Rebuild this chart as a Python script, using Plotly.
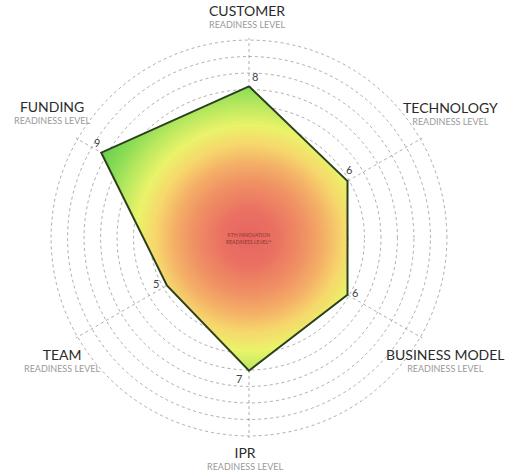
import numpy as np
import plotly.graph_objects as go

categories = ["CUSTOMER", "TECHNOLOGY", "BUSINESS MODEL", "IPR", "TEAM", "FUNDING"]
values = [8, 6, 6, 7, 5, 9]
subtitle = "READINESS LEVEL"
center_text = "KTH INNOVATION<br>READINESS LEVEL™"

W, H = 525, 475
CX, CY = 249, 238          # polar centre in px
RPX = 200                  # polar radius in px
RMAX = 10.55               # radial range max (units)
GRID_STEP = 0.87

n = len(categories)
angles = np.arange(n) * 360.0 / n   # clockwise from top


def poly_radius(theta_deg):
    """Radius of the data polygon along direction theta (polar, clockwise from top)."""
    vals = np.array(values, dtype=float)
    ang = np.radians(angles)
    px = vals * np.sin(ang)
    py = vals * np.cos(ang)
    t = np.radians(theta_deg)
    dx, dy = np.sin(t), np.cos(t)
    best = None
    for i in range(n):
        x1, y1 = px[i], py[i]
        x2, y2 = px[(i + 1) % n], py[(i + 1) % n]
        ex, ey = x2 - x1, y2 - y1
        den = dx * (-ey) - dy * (-ex)
        if abs(den) < 1e-12:
            continue
        s = (x1 * (-ey) - y1 * (-ex)) / den
        u = (dx * y1 - dy * x1) / den
        if s > 0 and -1e-9 <= u <= 1 + 1e-9:
            if best is None or s < best:
                best = s
    return best


theta_s = np.unique(np.concatenate([np.linspace(0, 360, 721), angles, [360]]))
prad = np.array([poly_radius(t) for t in theta_s])

stops = [
    (0.0, (231, 100, 98)),
    (1.5, (234, 113, 98)),
    (3.0, (240, 145, 100)),
    (4.0, (244, 175, 103)),
    (5.0, (246, 215, 108)),
    (6.0, (234, 243, 106)),
    (7.0, (188, 233, 96)),
    (8.0, (138, 221, 86)),
    (9.0, (106, 206, 78)),
    (10.0, (95, 200, 75)),
]


def color_at(r):
    for (r0, c0), (r1, c1) in zip(stops[:-1], stops[1:]):
        if r <= r1:
            f = (r - r0) / (r1 - r0)
            c = [round(a + (b - a) * f) for a, b in zip(c0, c1)]
            return "rgb(%d,%d,%d)" % tuple(c)
    return "rgb(%d,%d,%d)" % stops[-1][1]


fig = go.Figure()

levels = np.arange(max(values), 0, -0.1)
for lv in levels:
    rr = np.minimum(prad, lv)
    fig.add_trace(go.Scatterpolar(
        r=rr, theta=theta_s, mode="lines", fill="toself",
        fillcolor=color_at(lv), line=dict(width=0, color=color_at(lv)),
        hoverinfo="skip", showlegend=False))

# outline
fig.add_trace(go.Scatterpolar(
    r=values + [values[0]], theta=list(angles) + [angles[0]],
    mode="lines", line=dict(color="#2c401e", width=2),
    hoverinfo="skip", showlegend=False))

# value labels: offsets in px from the vertex
lab_off = [(6, -10), (1, -12), (7, -2), (-10, 8), (-11, -2), (-4, -10)]

annotations = []


def px2paper(x, y):
    return (x - (CX - RPX)) / (2 * RPX), ((CY + RPX) - y) / (2 * RPX)


def add_text(x, y, text, size, color):
    xp, yp = px2paper(x, y)
    annotations.append(dict(x=xp, y=yp, xref="paper", yref="paper", text=text,
                            xanchor="center", yanchor="middle", showarrow=False,
                            font=dict(size=size, color=color, family="Lato")))


for a, v, (ox, oy) in zip(angles, values, lab_off):
    t = np.radians(a)
    x = CX + v * RPX / RMAX * np.sin(t) + ox
    y = CY - v * RPX / RMAX * np.cos(t) + oy
    add_text(x, y, str(v), 11, "#444")

# category titles (centre of the title line) with the subtitle on a second line
label_pos = [(247, 10), (451, 107), (445, 354), (245, 452), (62, 354), (52, 106)]
for name, (x, y) in zip(categories, label_pos):
    txt = ("<span style='font-size:14px;color:#2b2b2b'>%s</span><br>%s" % (name, subtitle))
    add_text(x, y + 6, txt, 9, "#9a9a9a")

add_text(CX, CY, center_text, 5, "#8a3a30")

grid_vals = [GRID_STEP * k for k in range(1, 13)]

fig.update_layout(
    width=W, height=H,
    margin=dict(l=CX - RPX, r=W - CX - RPX, t=CY - RPX, b=H - CY - RPX, pad=0),
    paper_bgcolor="white", plot_bgcolor="white",
    showlegend=False,
    annotations=annotations,
    polar=dict(
        domain=dict(x=[0, 1], y=[0, 1]),
        bgcolor="rgba(0,0,0,0)",
        radialaxis=dict(range=[0, RMAX], tickvals=grid_vals, showticklabels=False,
                        ticks="", showline=False, gridcolor="rgba(120,120,120,0.6)",
                        griddash="dot", gridwidth=1.3, layer="above traces"),
        angularaxis=dict(rotation=90, direction="clockwise", tickvals=list(angles),
                         showticklabels=False, ticks="", showline=False,
                         gridcolor="rgba(120,120,120,0.6)", griddash="dot", gridwidth=1.3,
                         layer="above traces", thetaunit="degrees"),
    ),
)

fig.write_html("out.html")
